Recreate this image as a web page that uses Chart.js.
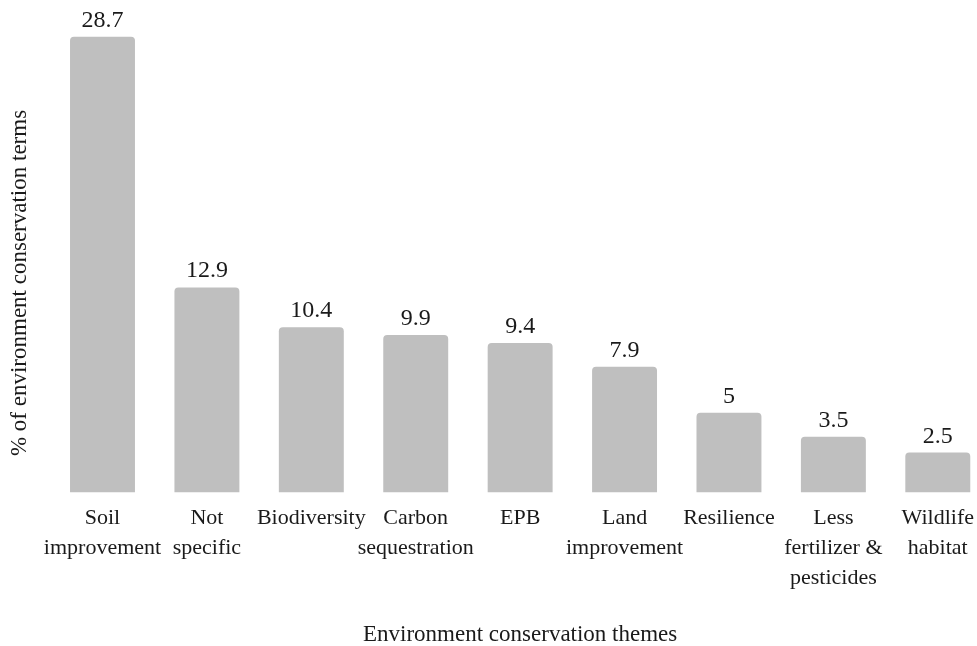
<!DOCTYPE html>
<html lang="en">
<head>
  <meta charset="UTF-8" />
  <title>Environment conservation themes</title>
  <script src="https://cdn.jsdelivr.net/npm/chart.js"></script>
  <style>
    html, body { margin: 0; padding: 0; background: #fff; overflow: hidden; }
    #wrap { width: 977px; height: 646px; }
  </style>
</head>
<body>
<div id="wrap"><canvas id="themeChart" width="977" height="646"></canvas></div>

<script>
const themes = [
  ["Soil", "improvement"],
  ["Not", "specific"],
  "Biodiversity",
  ["Carbon", "sequestration"],
  "EPB",
  ["Land", "improvement"],
  "Resilience",
  ["Less", "fertilizer &", "pesticides"],
  ["Wildlife", "habitat"]
];
const percentTerms = [28.7, 12.9, 10.4, 9.9, 9.4, 7.9, 5, 3.5, 2.5];

const yTitle = "% of environment conservation terms";
const xTitle = "Environment conservation themes";

const serif = "'Liberation Serif', 'Times New Roman', serif";
const ink = "#1a1a1a";

// value labels above each bar
const barLabels = {
  id: "barLabels",
  afterDatasetsDraw(chart) {
    const { ctx } = chart;
    const meta = chart.getDatasetMeta(0);
    ctx.save();
    ctx.font = "24px " + serif;
    ctx.fillStyle = ink;
    ctx.textAlign = "center";
    ctx.textBaseline = "alphabetic";
    meta.data.forEach((bar, i) => {
      ctx.fillText(String(percentTerms[i]), bar.x, bar.y - 10);
    });
    ctx.restore();
  }
};

// y title, placed like the original (a bit lower than the plot middle)
const sideTitle = {
  id: "sideTitle",
  afterDraw(chart) {
    const { ctx } = chart;
    ctx.save();
    ctx.font = "23px " + serif;
    ctx.fillStyle = ink;
    ctx.textAlign = "center";
    ctx.textBaseline = "middle";
    ctx.translate(20, 283);
    ctx.rotate(-Math.PI / 2);
    ctx.fillText(yTitle, 0, 0);
    ctx.restore();
  }
};

const ctx = document.getElementById("themeChart").getContext("2d");
new Chart(ctx, {
  type: "bar",
  data: {
    labels: themes,
    datasets: [{
      data: percentTerms,
      backgroundColor: "#bfbfbf",
      borderRadius: 4,
      barPercentage: 0.622,
      categoryPercentage: 1,
      clip: false
    }]
  },
  options: {
    responsive: false,
    animation: false,
    layout: { padding: { top: 16, right: 39, bottom: 0, left: 0 } },
    plugins: {
      legend: { display: false },
      tooltip: { enabled: false }
    },
    scales: {
      x: {
        offset: false,
        grid: { display: false },
        border: { display: false },
        ticks: {
          color: ink,
          font: { family: serif, size: 22, lineHeight: 1.36 },
          padding: 3,
          maxRotation: 0,
          autoSkip: false
        },
        title: {
          display: true,
          text: xTitle,
          color: ink,
          font: { family: serif, size: 23, lineHeight: 1 },
          padding: { top: 27, bottom: 0 }
        }
      },
      y: {
        min: 0,
        max: 30,
        grid: { display: false },
        border: { display: false },
        ticks: { display: false },
        afterFit(scale) { scale.width = 102.5; }
      }
    }
  },
  plugins: [barLabels, sideTitle]
});
</script>
</body>
</html>
